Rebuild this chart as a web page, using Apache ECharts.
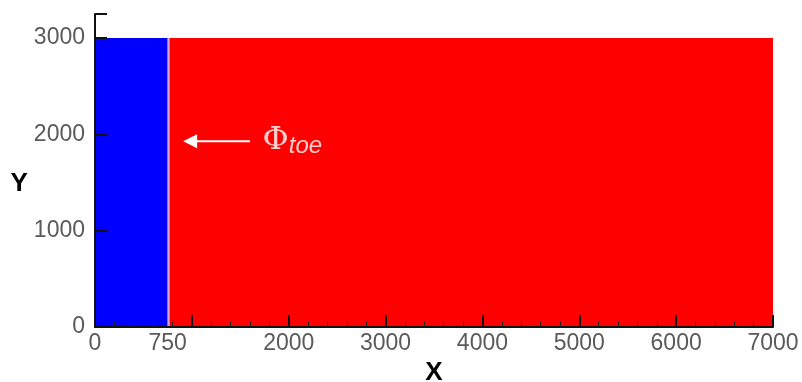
<!DOCTYPE html>
<html>
<head>
<meta charset="utf-8">
<script src="https://cdn.jsdelivr.net/npm/echarts@6/dist/echarts.min.js"></script>
<style>
  html, body { margin: 0; padding: 0; background: #fff; }
  #chart { width: 802px; height: 382px; }
</style>
</head>
<body>
<div id="chart"></div>
<script>
// Domain regions: [xStart, xEnd, yStart, yEnd]
const regions = [
  [0, 750, 0, 3000],
  [750, 7000, 0, 3000]
];
const regionColors = ['#0000ff', '#ff0000'];
// Interface between the two regions
const interfaceX = 750;
const interfaceTop = 3000;
// Tick labels
const xLabels = [0, 750, 2000, 3000, 4000, 5000, 6000, 7000];
const yLabels = [0, 1000, 2000, 3000];
// Annotation pointing at the interface
const arrowTail = [1600, 1930];
const arrowHead = [910, 1930];
const labelPos = [1730, 1930];

const chart = echarts.init(document.getElementById('chart'));

const plainNumber = v => String(v);

const axisCommon = {
  z: 10,
  axisLine: { show: true, lineStyle: { color: '#111', width: 2 } },
  axisTick: { show: true, inside: true, length: 12, lineStyle: { color: '#111', width: 2 } },
  minorTick: { show: true, splitNumber: 5, length: 6, lineStyle: { color: '#222', width: 1 } },
  splitLine: { show: false },
  axisLabel: { color: '#5a5a5a', fontSize: 23, fontFamily: 'Liberation Sans, Arial, sans-serif', formatter: plainNumber },
  nameTextStyle: { color: '#000', fontSize: 26, fontWeight: 'bold', fontFamily: 'Liberation Sans, Arial, sans-serif' }
};

chart.setOption({
  animation: false,
  grid: { left: 95, right: 29, top: 14, bottom: 55, containLabel: false, outerBoundsMode: 'none' },
  xAxis: Object.assign({}, axisCommon, {
    type: 'value', min: 0, max: 7000, interval: 1000,
    name: 'X', nameLocation: 'middle', nameGap: 32,
    axisLabel: Object.assign({}, axisCommon.axisLabel, {
      customValues: xLabels, margin: 5
    })
  }),
  yAxis: Object.assign({}, axisCommon, {
    type: 'value', min: 0, max: 3250, interval: 250,
    name: 'Y', nameLocation: 'middle', nameGap: 66, nameRotate: 0,
    nameTextStyle: Object.assign({}, axisCommon.nameTextStyle, { verticalAlign: 'top', padding: [0, 0, 0, 0] }),
    axisTick: Object.assign({}, axisCommon.axisTick, { customValues: [0, 1000, 2000, 3000, 3250] }),
    minorTick: { show: false },
    axisLabel: Object.assign({}, axisCommon.axisLabel, { customValues: yLabels, margin: 10 })
  }),
  series: [
    {
      type: 'custom',
      silent: true,
      z: 1,
      data: regions.map((r, i) => r.concat(i)),
      renderItem: function (params, api) {
        const p0 = api.coord([api.value(0), api.value(3)]);
        const p1 = api.coord([api.value(1), api.value(2)]);
        return {
          type: 'rect',
          shape: { x: p0[0], y: p0[1], width: p1[0] - p0[0], height: p1[1] - p0[1] },
          style: { fill: regionColors[api.value(4)] }
        };
      }
    },
    {
      type: 'custom',
      silent: true,
      z: 2,
      data: [[interfaceX, 0, interfaceTop]],
      renderItem: function (params, api) {
        const a = api.coord([api.value(0), api.value(1)]);
        const b = api.coord([api.value(0), api.value(2)]);
        return {
          type: 'line',
          shape: { x1: a[0] + 1, y1: a[1], x2: b[0] + 1, y2: b[1] },
          style: { stroke: '#d6a6f0', lineWidth: 2 }
        };
      }
    },
    {
      type: 'custom',
      silent: true,
      z: 3,
      data: [[arrowTail[0], arrowTail[1], arrowHead[0], arrowHead[1]]],
      renderItem: function (params, api) {
        const t = api.coord([api.value(0), api.value(1)]);
        const h = api.coord([api.value(2), api.value(3)]);
        return {
          type: 'group',
          children: [
            { type: 'line', shape: { x1: t[0], y1: t[1], x2: h[0] + 8, y2: h[1] },
              style: { stroke: '#fff', lineWidth: 2 } },
            { type: 'polygon', shape: { points: [[h[0], h[1]], [h[0] + 14, h[1] - 7], [h[0] + 14, h[1] + 7]] },
              style: { fill: '#fff' } }
          ]
        };
      }
    },
    {
      type: 'scatter',
      silent: true,
      z: 4,
      symbolSize: 0,
      data: [labelPos],
      label: {
        show: true,
        position: 'right',
        distance: 0,
        formatter: '{phi|Φ}{sub|toe}',
        rich: {
          phi: { color: '#fff', fontSize: 32, fontFamily: 'DejaVu Serif, serif' },
          sub: { color: '#fff', fontSize: 24, fontStyle: 'italic', fontFamily: 'Liberation Sans, Arial, sans-serif', padding: [10, 0, 0, 0] }
        }
      }
    }
  ]
});
</script>
</body>
</html>
